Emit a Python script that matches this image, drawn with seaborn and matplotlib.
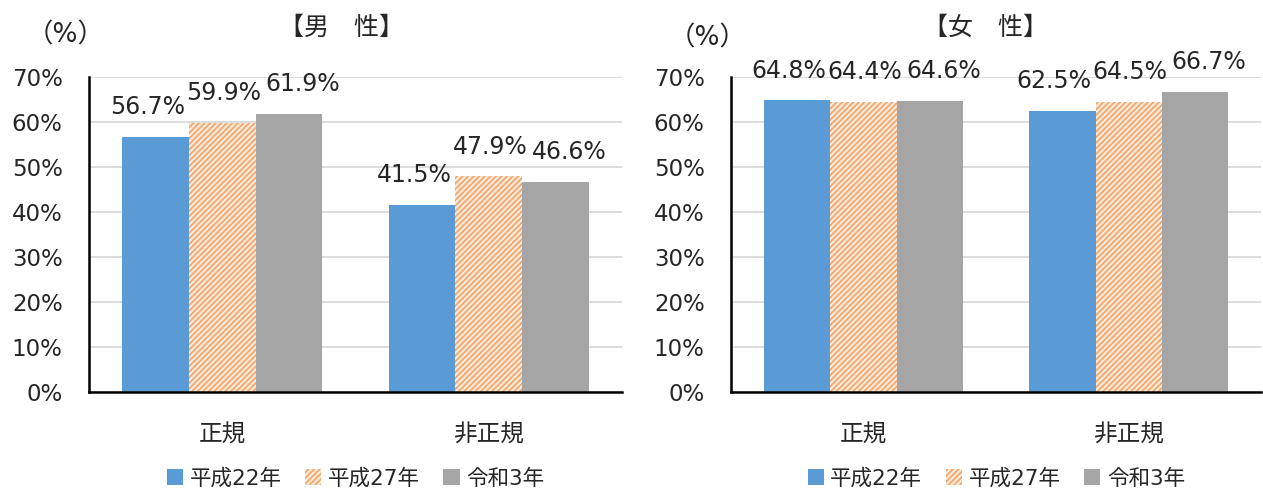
import matplotlib.pyplot as plt
import pandas as pd
import seaborn as sns
from matplotlib.patches import Patch
from matplotlib.ticker import PercentFormatter

categories = ["正規", "非正規"]
years = ["平成22年", "平成27年", "令和3年"]

male_h22 = [56.7, 41.5]
male_h27 = [59.9, 47.9]
male_r3 = [61.9, 46.6]

female_h22 = [64.8, 62.5]
female_h27 = [64.4, 64.5]
female_r3 = [64.6, 66.7]

colors = ["#5b9bd5", "#ed7d31", "#a5a5a5"]
hatch_face = "#fde9d9"
hatch_line = "#f3a467"


def make_frame(series):
    rows = []
    for year, vals in zip(years, series):
        for cat, v in zip(categories, vals):
            rows.append({"type": cat, "year": year, "rate": v})
    return pd.DataFrame(rows)


sns.set_style("white")
plt.rcParams["font.family"] = ["DejaVu Sans", "Noto Sans CJK JP"]
plt.rcParams["hatch.linewidth"] = 1.2

fig = plt.figure(figsize=(12.63, 4.88), dpi=100)
ax_m = fig.add_axes([0.0705, 0.197, 0.422, 0.645])
ax_f = fig.add_axes([0.5788, 0.197, 0.420, 0.645])

# small horizontal nudges (points) so neighbouring labels don't collide
label_dx = [-6, 0.7, 10]

for ax, series in [(ax_m, [male_h22, male_h27, male_r3]),
                   (ax_f, [female_h22, female_h27, female_r3])]:
    df = make_frame(series)
    sns.barplot(data=df, x="type", y="rate", hue="year", hue_order=years,
                order=categories, palette=colors, width=0.75, saturation=1,
                linewidth=0, ax=ax, legend=False)

    for bar in ax.containers[1]:
        bar.set_facecolor(hatch_face)
        bar.set_edgecolor(hatch_line)
        bar.set_hatch("//////")
        bar.set_linewidth(0)

    for i, (cont, vals) in enumerate(zip(ax.containers, series)):
        for bar, v in zip(cont, vals):
            ax.annotate(f"{v:.1f}%",
                        (bar.get_x() + bar.get_width() / 2, bar.get_height()),
                        xytext=(label_dx[i], 16.5), textcoords="offset points",
                        ha="center", va="baseline", fontsize=17)

    ax.set_ylim(0, 70)
    ax.set_yticks(range(0, 71, 10))
    ax.yaxis.set_major_formatter(PercentFormatter(xmax=100, decimals=0))
    ax.yaxis.grid(True, color="#d9d9d9", lw=1.3)
    ax.set_axisbelow(True)
    ax.set_xlabel("")
    ax.set_ylabel("")
    for s in ["top", "right"]:
        ax.spines[s].set_visible(False)
    for s in ["left", "bottom"]:
        ax.spines[s].set_color("black")
        ax.spines[s].set_linewidth(1.8)
    ax.tick_params(axis="y", length=0, pad=19, labelsize=16.5)
    ax.tick_params(axis="x", length=0, pad=22, labelsize=17)

    handles = [
        Patch(facecolor=colors[0], edgecolor="none"),
        Patch(facecolor=hatch_face, edgecolor=hatch_line, hatch="//////", linewidth=0),
        Patch(facecolor=colors[2], edgecolor="none"),
    ]
    ax.legend(handles, years, loc="center", bbox_to_anchor=(0.5, -0.275),
              ncol=3, frameon=False, fontsize=15.5, handlelength=0.75,
              handleheight=0.75, handletextpad=0.3, columnspacing=1.1)

fig.text(0.27, 0.943, "【男　性】", ha="center", va="center", fontsize=18)
fig.text(0.78, 0.943, "【女　性】", ha="center", va="center", fontsize=18)
fig.text(0.052, 0.928, "（%）", ha="center", va="center", fontsize=19)
fig.text(0.56, 0.922, "（%）", ha="center", va="center", fontsize=19)

fig.savefig("out.png", dpi=100)
